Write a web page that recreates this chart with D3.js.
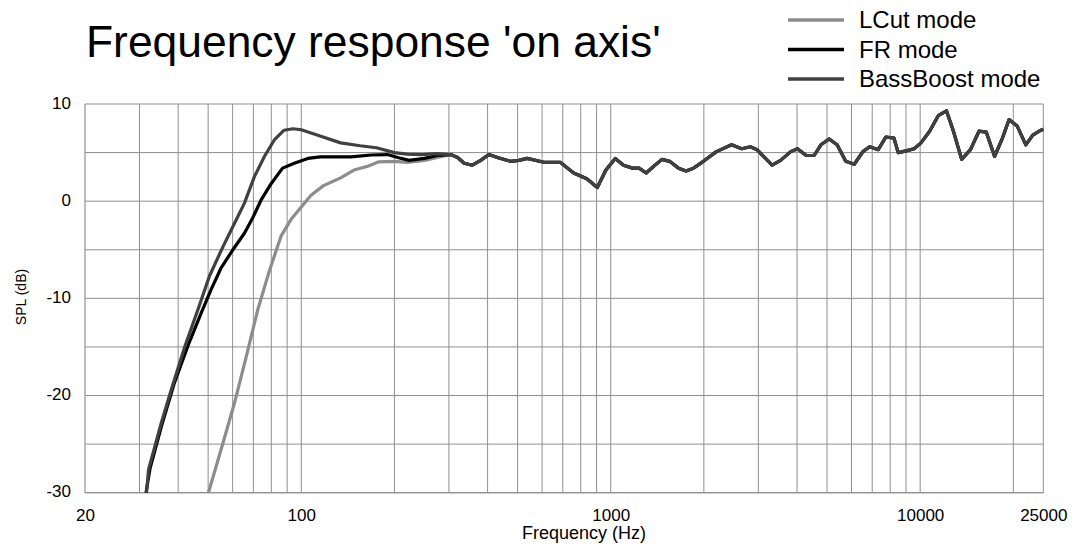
<!DOCTYPE html>
<html>
<head>
<meta charset="utf-8">
<script src="https://cdn.jsdelivr.net/npm/d3@7"></script>
<style>
  html, body { margin: 0; padding: 0; background: #fff; }
  svg { display: block; font-family: "Liberation Sans", Arial, sans-serif; }
</style>
</head>
<body>
<svg id="chart" width="1079" height="552"></svg>
<script>
// ---- Data ----
const seriesNames = ["LCut mode", "FR mode", "BassBoost mode"];
const xTickLabels = [20, 100, 1000, 10000, 25000];
const yTickLabels = [10, 0, -10, -20, -30];

// Low-frequency part, per mode: [Hz, dB]
const lcutLow = [
  [50.1,-30],[55,-25.6],[60.8,-20.8],[66.4,-16.0],[72.3,-11.2],[78.8,-7.2],
  [86,-3.6],[93,-1.8],[100,-0.6],[107.5,0.6],[118,1.6],[134,2.4],[148,3.2],
  [164,3.6],[178,4.05],[200,4.1],[220,4.0],[250,4.2],[275,4.5]
];
const frLow = [
  [31.5,-30],[32.4,-27.6],[35.3,-23.2],[38.9,-18.7],[43,-14.9],[47.5,-11.5],
  [51.1,-9.1],[55,-6.9],[60.1,-5.0],[65.5,-3.3],[69.7,-1.7],[74.1,0.1],
  [79.9,1.8],[87,3.4],[94.9,3.9],[105,4.4],[115,4.55],[125,4.55],[145,4.55],
  [168,4.75],[190,4.8],[205,4.5],[223,4.2],[250,4.4],[275,4.7]
];
const bassLow = [
  [31.6,-30],[32.1,-27.6],[35.3,-22.8],[38.0,-19.4],[41.9,-15.1],[46.3,-11.2],
  [50.5,-7.7],[55.8,-4.7],[60.8,-2.3],[65.5,-0.2],[70.5,2.5],[76,4.6],
  [81.8,6.3],[88,7.3],[94,7.45],[100,7.35],[115,6.7],[134,6.0],[155,5.7],
  [175,5.5],[200,5.0],[220,4.85],[245,4.8],[275,4.9]
];
// Above ~300 Hz all three modes coincide
const sharedHigh = [
  [304,4.8],[320,4.5],[336,3.9],[357,3.7],[380,4.2],[404,4.8],[430,4.5],
  [474,4.1],[505,4.2],[537,4.4],[608,4.0],[687,4.0],[759,2.9],[837,2.3],
  [905,1.4],[965,3.2],[1034,4.4],[1100,3.7],[1175,3.4],[1235,3.4],[1302,2.9],
  [1377,3.6],[1464,4.3],[1550,4.1],[1656,3.4],[1751,3.1],[1852,3.4],[1993,4.1],
  [2196,5.1],[2457,5.8],[2650,5.4],[2827,5.6],[2970,5.3],[3323,3.7],[3540,4.2],
  [3818,5.1],[4014,5.4],[4283,4.7],[4542,4.7],[4779,5.8],[5080,6.4],[5390,5.8],
  [5747,4.1],[6125,3.8],[6532,5.1],[6867,5.6],[7320,5.3],[7747,6.6],[8225,6.5],
  [8490,5.0],[9070,5.2],[9566,5.4],[10060,6.0],[10730,7.2],[11440,8.8],
  [12160,9.3],[12780,7.3],[13620,4.3],[14540,5.3],[15490,7.2],[16360,7.1],
  [17400,4.6],[18450,6.5],[19380,8.4],[20610,7.7],[21950,5.8],[23120,6.8],
  [24560,7.3],[25000,7.4]
];
const seriesColors = ["#8c8c8c", "#000000", "#404040"];

// ---- Layout ----
const svg = d3.select("#chart");
const pLeft = 85, pRight = 1043.3, pTop = 104, pBottom = 492.7;
const fontFam = "Liberation Sans, Arial, sans-serif";

const x = d3.scaleLog().domain([20, 25000]).range([pLeft, pRight]);
const y = d3.scaleLinear().domain([-30, 10]).range([pBottom, pTop]);

// grid lines
const vGrid = [];
[10, 100, 1000, 10000].forEach(dec => {
  for (let k = 1; k <= 9; k++) {
    const f = dec * k;
    if (f > 20 && f <= 25000) vGrid.push(f);
  }
});
vGrid.push(25000);

const grid = svg.append("g").attr("class", "grid");
grid.selectAll("line.v").data(vGrid).enter().append("line")
  .attr("x1", d => x(d)).attr("x2", d => x(d))
  .attr("y1", pTop).attr("y2", pBottom)
  .attr("stroke", "#8f8f8f").attr("stroke-width", 1);
grid.selectAll("line.h").data(d3.range(-30, 11, 5)).enter().append("line")
  .attr("x1", pLeft).attr("x2", pRight)
  .attr("y1", d => y(d)).attr("y2", d => y(d))
  .attr("stroke", "#8f8f8f").attr("stroke-width", 1);

// axis lines (left & bottom)
svg.append("line").attr("x1", pLeft).attr("x2", pLeft).attr("y1", pTop).attr("y2", pBottom)
  .attr("stroke", "#8f8f8f").attr("stroke-width", 1.2);
svg.append("line").attr("x1", pLeft).attr("x2", pRight).attr("y1", pBottom).attr("y2", pBottom)
  .attr("stroke", "#8f8f8f").attr("stroke-width", 1.2);

// axes via d3 (ticks hidden, labels only)
const xAxis = d3.axisBottom(x).tickValues(xTickLabels).tickSize(0).tickPadding(16)
  .tickFormat(d => String(d));
const gx = svg.append("g").attr("transform", `translate(0,${pBottom})`).call(xAxis);
gx.select(".domain").remove();
gx.selectAll("text").attr("font-size", 17).attr("fill", "#000").attr("font-family", fontFam);

const yAxis = d3.axisLeft(y).tickValues(yTickLabels).tickSize(0).tickPadding(14)
  .tickFormat(d => String(d));
const gy = svg.append("g").attr("transform", `translate(${pLeft},0)`).call(yAxis);
gy.select(".domain").remove();
gy.selectAll("text").attr("font-size", 17).attr("fill", "#000").attr("dy", "0.24em")
  .attr("font-family", fontFam);

// curves
const line = d3.line().x(d => x(d[0])).y(d => y(d[1]));
const allSeries = [lcutLow.concat(sharedHigh), frLow.concat(sharedHigh), bassLow.concat(sharedHigh)];
svg.append("g").selectAll("path").data(allSeries).enter().append("path")
  .attr("d", line)
  .attr("fill", "none")
  .attr("stroke", (d, i) => seriesColors[i])
  .attr("stroke-width", 3.2)
  .attr("stroke-linejoin", "round")
  .attr("stroke-linecap", "butt");

// title
svg.append("text").attr("x", 86).attr("y", 57).attr("font-size", 44.4)
  .attr("fill", "#000").text("Frequency response 'on axis'");

// axis titles
svg.append("text").attr("x", 584).attr("y", 539).attr("text-anchor", "middle")
  .attr("font-size", 18).attr("fill", "#000").text("Frequency (Hz)");
svg.append("text").attr("transform", "translate(26,297) rotate(-90)")
  .attr("text-anchor", "middle").attr("font-size", 14).attr("fill", "#000").text("SPL (dB)");

// legend
const legend = svg.append("g");
seriesNames.forEach((name, i) => {
  const ly = 20 + i * 29.5;
  legend.append("line").attr("x1", 788).attr("x2", 844).attr("y1", ly).attr("y2", ly)
    .attr("stroke", seriesColors[i]).attr("stroke-width", 3.4);
  legend.append("text").attr("x", 859).attr("y", ly + 8).attr("font-size", 24)
    .attr("fill", "#000").text(name);
});
</script>
</body>
</html>
